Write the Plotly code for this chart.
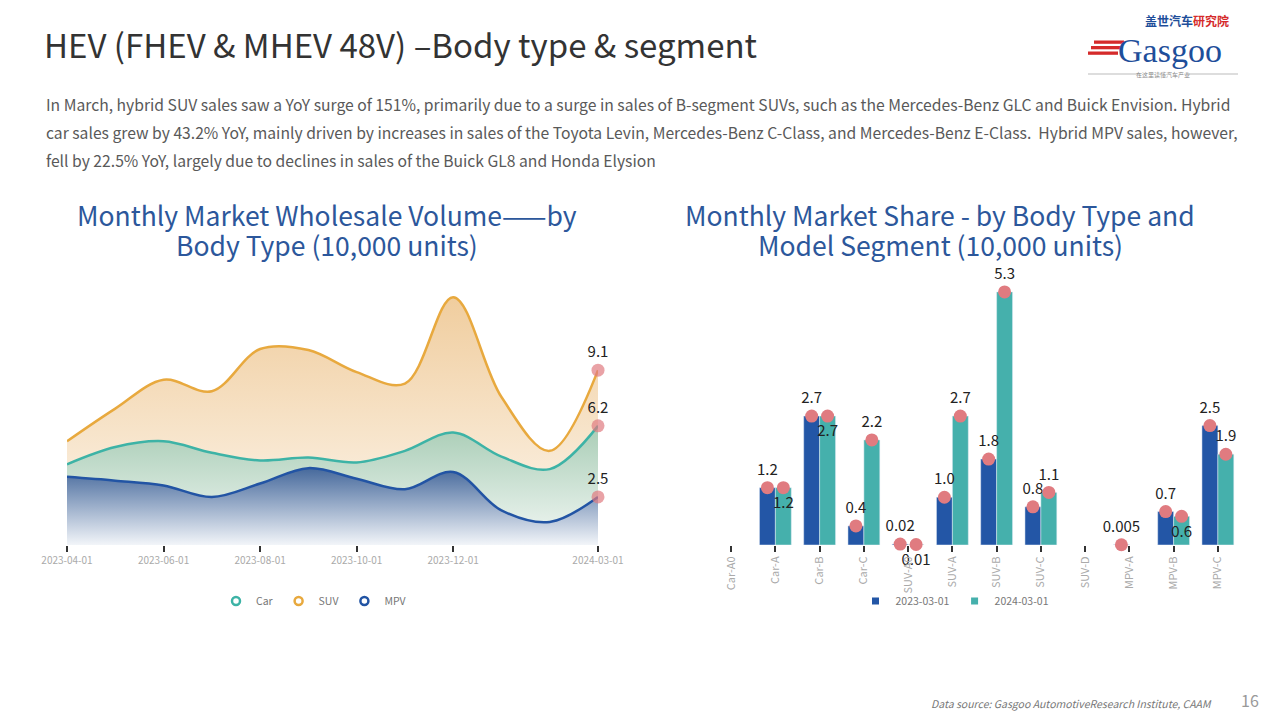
import plotly.graph_objects as go

# ---------------- data ----------------
months = ["2023-04-01", "2023-05-01", "2023-06-01", "2023-07-01", "2023-08-01", "2023-09-01",
          "2023-10-01", "2023-11-01", "2023-12-01", "2024-01-01", "2024-02-01", "2024-03-01"]
month_ticks = ["2023-04-01", "2023-06-01", "2023-08-01", "2023-10-01", "2023-12-01", "2024-03-01"]
car = [4.2, 5.1, 5.4, 4.8, 4.4, 4.55, 4.3, 4.9, 5.85, 4.6, 3.95, 6.2]
suv = [5.4, 7.1, 8.6, 8.0, 10.2, 10.15, 9.0, 8.4, 12.9, 7.7, 4.9, 9.1]
mpv = [3.55, 3.35, 3.1, 2.5, 3.2, 4.0, 3.45, 2.9, 3.8, 1.8, 1.2, 2.5]

segments = ["Car-A0", "Car-A", "Car-B", "Car-C", "SUV-A0", "SUV-A", "SUV-B", "SUV-C",
            "SUV-D", "MPV-A", "MPV-B", "MPV-C"]
share_2023 = [None, 1.2, 2.7, 0.4, 0.02, 1.0, 1.8, 0.8, None, 0.005, 0.7, 2.5]
share_2024 = [None, 1.2, 2.7, 2.2, 0.01, 2.7, 5.3, 1.1, None, None, 0.6, 1.9]
pos_2024 = ["top center", "bottom center", "bottom center", "top center", "bottom center",
            "top center", "top center", "top center", "top center", "top center",
            "bottom center", "top center"]

# page body has an 8px margin: the figure covers page pixels 8..1272 x 8..712
OFF = 8
W, H = 1280 - 2 * OFF, 720 - 2 * OFF
def px(x): return (x - OFF) / W
def py(y): return 1 - (y - OFF) / H

def fmt(v):
    if v is None:
        return ""
    return f"{v:g}" if v < 0.1 else f"{v:.1f}"

PINK = "#e07b80"
FONT = "Noto Sans CJK SC"

fig = go.Figure()

# ---------------- left: area chart ----------------
series = [
    ("SUV", suv, "#e8a93e", ["#fdf7ef", "#f0cd9e"]),
    ("Car", car, "#3db3a6", ["#f3f8f5", "#a9cdb6"]),
    ("MPV", mpv, "#2254a4", ["#f2f5f9", "#46699c"]),
]
n = len(months)
for name, vals, col, grad in series:
    fig.add_trace(go.Scatter(
        x=months, y=vals, mode="lines+markers+text", name=name, offsetgroup="L",
        line=dict(color=col, width=2.5, shape="spline", smoothing=1.0),
        fill="tozeroy",
        fillgradient=dict(type="vertical", start=0, stop=max(vals),
                          colorscale=[[0, grad[0]], [1, grad[1]]]),
        marker=dict(size=[0] * (n - 1) + [13], color=PINK, line=dict(width=0)),
        text=[""] * (n - 1) + [fmt(vals[-1])], textposition="top center",
        textfont=dict(size=15, color="#222", family=FONT),
        cliponaxis=False, showlegend=False, hoverinfo="x+y",
        xaxis="x", yaxis="y"))

for name, vals, col, grad in [series[1], series[0], series[2]]:
    fig.add_trace(go.Scatter(
        x=[None], y=[None], mode="markers", name=name, offsetgroup="L",
        marker=dict(symbol="circle-open", size=8, color=col, line=dict(width=2.5, color=col)),
        xaxis="x", yaxis="y", legend="legend"))

# ---------------- right: grouped bars ----------------
fig.add_trace(go.Bar(x=segments, y=share_2023, marker_color="#2356a6", name="2023-03-01",
                     offsetgroup="a", xaxis="x2", yaxis="y2", showlegend=False))
fig.add_trace(go.Bar(x=segments, y=share_2024, marker_color="#45b0ac", name="2024-03-01",
                     offsetgroup="b", xaxis="x2", yaxis="y2", showlegend=False))
fig.add_trace(go.Scatter(x=segments, y=share_2023, mode="markers+text", offsetgroup="a",
                         marker=dict(size=13, color=PINK), text=[fmt(v) for v in share_2023],
                         textposition="top center", cliponaxis=False,
                         textfont=dict(size=15, color="#222", family=FONT),
                         xaxis="x2", yaxis="y2", showlegend=False))
fig.add_trace(go.Scatter(x=segments, y=share_2024, mode="markers+text", offsetgroup="b",
                         marker=dict(size=13, color=PINK), text=[fmt(v) for v in share_2024],
                         textposition=pos_2024, cliponaxis=False,
                         textfont=dict(size=15, color="#222", family=FONT),
                         xaxis="x2", yaxis="y2", showlegend=False))
for name, col in [("2023-03-01", "#2356a6"), ("2024-03-01", "#45b0ac")]:
    fig.add_trace(go.Scatter(x=[None], y=[None], mode="markers", name=name,
                             marker=dict(symbol="square", size=7, color=col),
                             xaxis="x2", yaxis="y2", legend="legend2"))

# ---------------- layout ----------------
axis_common = dict(showgrid=False, zeroline=False, showline=False, automargin=False)
fig.update_layout(
    width=W, height=H, autosize=False,
    margin=dict(l=0, r=0, t=0, b=0, pad=0, autoexpand=False),
    paper_bgcolor="white", plot_bgcolor="rgba(0,0,0,0)",
    font=dict(family=FONT, color="#333"),
    barmode="group", bargap=0.28, bargroupgap=0,
    scattermode="group", scattergap=0.28,
    xaxis=dict(domain=[px(67), px(598)], type="category", range=[0, n - 1],
               tickmode="array", tickvals=month_ticks, ticktext=month_ticks,
               ticks="outside", ticklen=6, tickwidth=1.5, tickcolor="#333",
               tickfont=dict(size=10, color="#aaa", family=FONT), anchor="y", **axis_common),
    yaxis=dict(domain=[py(545), py(276)], range=[0, 14], visible=False, **axis_common),
    xaxis2=dict(domain=[px(709), px(1240)], type="category", range=[-0.5, 11.5],
                ticks="outside", ticklen=6, tickwidth=1.5, tickcolor="#333", tickangle=-90,
                tickfont=dict(size=11, color="#aaa", family=FONT), anchor="y2", **axis_common),
    yaxis2=dict(domain=[py(545), py(268)], range=[0, 5.8], visible=False, **axis_common),
    legend=dict(orientation="h", x=px(314), xanchor="center", y=py(601), yanchor="middle",
                font=dict(size=10.5, color="#777", family=FONT), itemwidth=30,
                tracegroupgap=0, bgcolor="rgba(0,0,0,0)"),
    legend2=dict(orientation="h", x=px(955), xanchor="center", y=py(601), yanchor="middle",
                 font=dict(size=10.5, color="#777", family=FONT), itemwidth=30,
                 bgcolor="rgba(0,0,0,0)"),
)

ann = []
def text(x, y, s, size, color, xanchor="left", family=FONT, **kw):
    ann.append(dict(x=px(x), y=py(y), xref="paper", yref="paper", text=s, showarrow=False,
                    xanchor=xanchor, yanchor="middle",
                    font=dict(size=size, color=color, family=family), **kw))

text(42, 44, "HEV (FHEV &amp; MHEV 48V) –Body type &amp; segment", 33, "#333")
para = [
    "In March, hybrid SUV sales saw a YoY surge of 151%, primarily due to a surge in sales of B-segment SUVs, such as the Mercedes-Benz GLC and Buick Envision. Hybrid",
    "car sales grew by 43.2% YoY, mainly driven by increases in sales of the Toyota Levin, Mercedes-Benz C-Class, and Mercedes-Benz E-Class.  Hybrid MPV sales, however,",
    "fell by 22.5% YoY, largely due to declines in sales of the Buick GL8 and Honda Elysion",
]
for i, line in enumerate(para):
    text(44, 104 + 28 * i, line, 15.7, "#595959")

BLUE_T = "#2c579b"
text(327, 214, "Monthly Market Wholesale Volume——by", 26.5, BLUE_T, xanchor="center")
text(327, 244, "Body Type (10,000 units)", 26.5, BLUE_T, xanchor="center")
text(940, 214, "Monthly Market Share - by Body Type and", 26.5, BLUE_T, xanchor="center")
text(940, 244, "Model Segment (10,000 units)", 26.5, BLUE_T, xanchor="center")

# footer
text(1214, 703, "<i>Data source: Gasgoo AutomotiveResearch Institute, CAAM</i>", 10.5, "#777", xanchor="right")
text(1250, 700, "16", 16, "#999", xanchor="center")

# logo
text(1187, 20, "<b>盖世汽车</b><b><span style='color:#d52b2b'>研究院</span></b>", 12, "#1e4e9a", xanchor="center")
text(1170, 50, "Gasgoo", 34, "#1e4e9a", xanchor="center", family="Liberation Serif")
text(1163, 74, "在这里读懂汽车产业", 6, "#888", xanchor="center")
fig.update_layout(annotations=ann)

shapes = []
for x0, y0 in [(1094, 42), (1091, 47.5), (1088, 53)]:
    shapes.append(dict(type="rect", xref="paper", yref="paper", x0=px(x0), x1=px(x0 + 30),
                       y0=py(y0 + 1.8), y1=py(y0 - 1.5), fillcolor="#d52b2b", line=dict(width=0)))
for x0, x1 in [(1088, 1140), (1186, 1238)]:
    shapes.append(dict(type="line", xref="paper", yref="paper", x0=px(x0), x1=px(x1),
                       y0=py(74), y1=py(74), line=dict(color="#aaa", width=0.8)))
fig.update_layout(shapes=shapes)

fig.write_html("out.html")
